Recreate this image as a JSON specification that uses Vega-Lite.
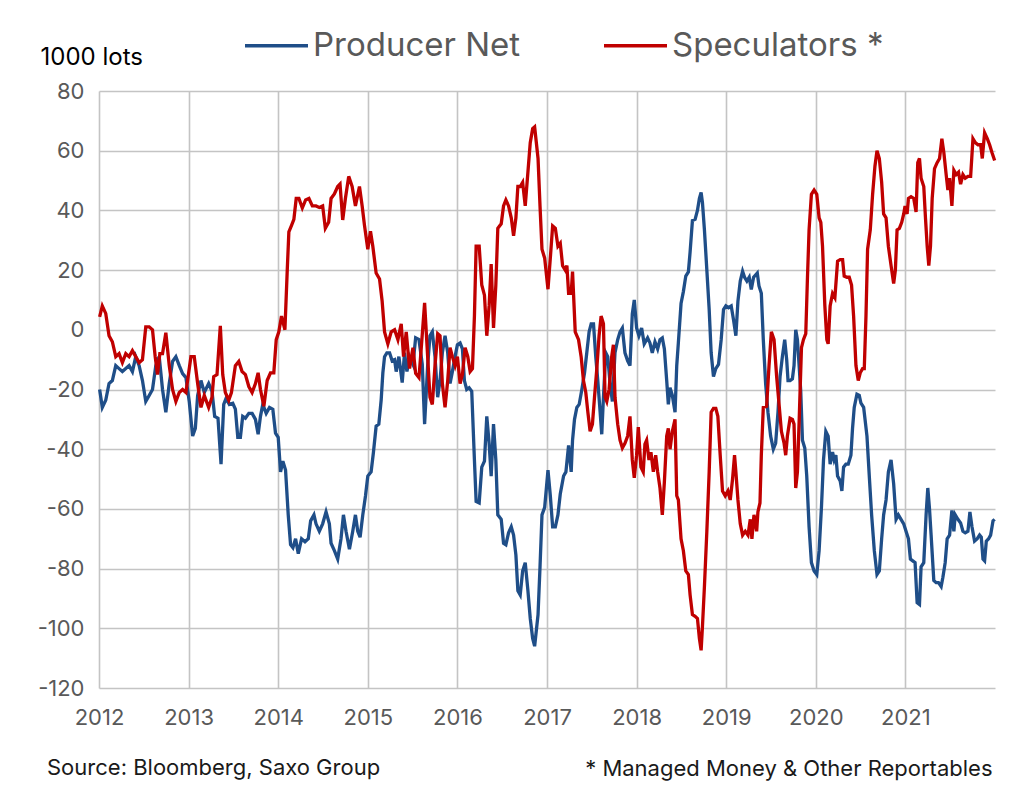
{
  "$schema": "https://vega.github.io/schema/vega-lite/v6.json",
  "width": 896,
  "height": 597,
  "autosize": "none",
  "padding": {"left": 99, "top": 91, "right": 20, "bottom": 98},
  "background": "white",
  "title": {"text": "Source: Bloomberg, Saxo Group", "orient": "bottom", "anchor": "start", "frame": "group", "dx": -52, "offset": -21, "fontSize": 22, "fontWeight": "normal", "color": "#1a1a1a", "font": "Inter"},
  "datasets": {
    "producer": [
{"t":2012.007,"v":-20},{"t":2012.037,"v":-26},{"t":2012.075,"v":-23.6},{"t":2012.112,"v":-18},{"t":2012.149,"v":-17},{"t":2012.187,"v":-12},{"t":2012.224,"v":-13},{"t":2012.261,"v":-14},{"t":2012.299,"v":-13},{"t":2012.336,"v":-12},{"t":2012.373,"v":-14},{"t":2012.41,"v":-9},{"t":2012.448,"v":-12},{"t":2012.485,"v":-17},{"t":2012.522,"v":-24},{"t":2012.56,"v":-22},{"t":2012.597,"v":-20},{"t":2012.634,"v":-12},{"t":2012.672,"v":-9},{"t":2012.709,"v":-20},{"t":2012.746,"v":-27.6},{"t":2012.784,"v":-18},{"t":2012.821,"v":-10.6},{"t":2012.858,"v":-9},{"t":2012.896,"v":-12},{"t":2012.933,"v":-14.7},{"t":2012.97,"v":-16},{"t":2013.007,"v":-24},{"t":2013.045,"v":-35.6},{"t":2013.075,"v":-33},{"t":2013.101,"v":-22},{"t":2013.138,"v":-17},{"t":2013.175,"v":-21},{"t":2013.224,"v":-18},{"t":2013.261,"v":-20.6},{"t":2013.291,"v":-29},{"t":2013.328,"v":-29.6},{"t":2013.362,"v":-45},{"t":2013.392,"v":-25},{"t":2013.418,"v":-23},{"t":2013.455,"v":-25},{"t":2013.493,"v":-24.6},{"t":2013.522,"v":-26.6},{"t":2013.549,"v":-36},{"t":2013.578,"v":-36},{"t":2013.604,"v":-29},{"t":2013.634,"v":-29.6},{"t":2013.672,"v":-28},{"t":2013.709,"v":-28},{"t":2013.746,"v":-30},{"t":2013.776,"v":-35},{"t":2013.802,"v":-29},{"t":2013.828,"v":-25},{"t":2013.866,"v":-28},{"t":2013.903,"v":-26},{"t":2013.94,"v":-26.6},{"t":2013.97,"v":-34.6},{"t":2014,"v":-36},{"t":2014.026,"v":-47.6},{"t":2014.052,"v":-44},{"t":2014.082,"v":-47},{"t":2014.112,"v":-62},{"t":2014.138,"v":-72},{"t":2014.164,"v":-73},{"t":2014.194,"v":-70},{"t":2014.224,"v":-75},{"t":2014.261,"v":-70},{"t":2014.299,"v":-71},{"t":2014.336,"v":-70},{"t":2014.362,"v":-64},{"t":2014.399,"v":-62},{"t":2014.422,"v":-65},{"t":2014.459,"v":-67.5},{"t":2014.496,"v":-65},{"t":2014.534,"v":-61},{"t":2014.571,"v":-65},{"t":2014.59,"v":-71.5},{"t":2014.627,"v":-74},{"t":2014.664,"v":-76.8},{"t":2014.701,"v":-70},{"t":2014.728,"v":-62},{"t":2014.757,"v":-67.5},{"t":2014.795,"v":-73.5},{"t":2014.832,"v":-67.5},{"t":2014.862,"v":-62},{"t":2014.888,"v":-67.5},{"t":2014.914,"v":-69.5},{"t":2014.944,"v":-62},{"t":2014.974,"v":-55.7},{"t":2015,"v":-49},{"t":2015.037,"v":-47.6},{"t":2015.063,"v":-41},{"t":2015.093,"v":-32.3},{"t":2015.123,"v":-31.6},{"t":2015.149,"v":-23.6},{"t":2015.168,"v":-14.4},{"t":2015.187,"v":-9},{"t":2015.213,"v":-7.7},{"t":2015.243,"v":-7.7},{"t":2015.272,"v":-10.4},{"t":2015.299,"v":-10},{"t":2015.317,"v":-14},{"t":2015.347,"v":-9},{"t":2015.384,"v":-17.7},{"t":2015.41,"v":-7.7},{"t":2015.437,"v":-14},{"t":2015.466,"v":-9},{"t":2015.504,"v":-11.6},{"t":2015.534,"v":-2.7},{"t":2015.571,"v":-3.3},{"t":2015.608,"v":-11.6},{"t":2015.634,"v":-31.6},{"t":2015.668,"v":-12},{"t":2015.694,"v":-2},{"t":2015.72,"v":-0.7},{"t":2015.75,"v":-9},{"t":2015.78,"v":-22.6},{"t":2015.806,"v":-17},{"t":2015.832,"v":-7.7},{"t":2015.862,"v":-2},{"t":2015.892,"v":-7.7},{"t":2015.918,"v":-18},{"t":2015.944,"v":-14},{"t":2015.974,"v":-9},{"t":2016,"v":-5},{"t":2016.03,"v":-4.4},{"t":2016.056,"v":-6.4},{"t":2016.078,"v":-17},{"t":2016.104,"v":-20},{"t":2016.131,"v":-19.4},{"t":2016.16,"v":-20.6},{"t":2016.19,"v":-43.6},{"t":2016.209,"v":-57.5},{"t":2016.243,"v":-58},{"t":2016.272,"v":-46},{"t":2016.302,"v":-44},{"t":2016.328,"v":-29},{"t":2016.354,"v":-38},{"t":2016.377,"v":-49},{"t":2016.403,"v":-31.6},{"t":2016.429,"v":-43.6},{"t":2016.451,"v":-62},{"t":2016.489,"v":-63.5},{"t":2016.515,"v":-71.5},{"t":2016.541,"v":-72},{"t":2016.571,"v":-68},{"t":2016.601,"v":-66},{"t":2016.627,"v":-68.8},{"t":2016.653,"v":-75.5},{"t":2016.675,"v":-87.4},{"t":2016.701,"v":-88.8},{"t":2016.728,"v":-80.8},{"t":2016.757,"v":-78},{"t":2016.787,"v":-87.4},{"t":2016.813,"v":-96.7},{"t":2016.84,"v":-103.4},{"t":2016.862,"v":-106},{"t":2016.9,"v":-95.4},{"t":2016.922,"v":-79.5},{"t":2016.944,"v":-62},{"t":2016.974,"v":-59.5},{"t":2017.011,"v":-47},{"t":2017.037,"v":-55.6},{"t":2017.063,"v":-66},{"t":2017.093,"v":-66},{"t":2017.122,"v":-62},{"t":2017.148,"v":-55},{"t":2017.185,"v":-49},{"t":2017.211,"v":-47.6},{"t":2017.241,"v":-38.7},{"t":2017.27,"v":-47.6},{"t":2017.285,"v":-37},{"t":2017.307,"v":-30},{"t":2017.333,"v":-26},{"t":2017.359,"v":-25},{"t":2017.389,"v":-20},{"t":2017.419,"v":-14.4},{"t":2017.444,"v":-7.7},{"t":2017.47,"v":-0.7},{"t":2017.493,"v":2},{"t":2017.519,"v":2},{"t":2017.544,"v":-9},{"t":2017.567,"v":-17},{"t":2017.593,"v":-27.6},{"t":2017.611,"v":-35},{"t":2017.63,"v":-22.6},{"t":2017.656,"v":-7.7},{"t":2017.678,"v":-9},{"t":2017.704,"v":-18},{"t":2017.73,"v":-24},{"t":2017.759,"v":-7.7},{"t":2017.789,"v":-3.3},{"t":2017.815,"v":-0.7},{"t":2017.841,"v":0.6},{"t":2017.87,"v":-7.7},{"t":2017.9,"v":-10.4},{"t":2017.926,"v":-12},{"t":2017.952,"v":5.3},{"t":2017.974,"v":10},{"t":2018,"v":0.6},{"t":2018.026,"v":-2},{"t":2018.056,"v":0.6},{"t":2018.085,"v":-4.7},{"t":2018.123,"v":-2.7},{"t":2018.149,"v":-4.4},{"t":2018.175,"v":-7.7},{"t":2018.205,"v":-4},{"t":2018.235,"v":-6.4},{"t":2018.261,"v":-3.3},{"t":2018.287,"v":-2.7},{"t":2018.31,"v":-6.4},{"t":2018.336,"v":-17},{"t":2018.354,"v":-25},{"t":2018.373,"v":-19.4},{"t":2018.399,"v":-22},{"t":2018.429,"v":-27.6},{"t":2018.448,"v":-12},{"t":2018.466,"v":-4.4},{"t":2018.496,"v":8.8},{"t":2018.522,"v":12.8},{"t":2018.549,"v":18},{"t":2018.578,"v":19.4},{"t":2018.597,"v":26},{"t":2018.623,"v":36.6},{"t":2018.653,"v":37},{"t":2018.679,"v":40},{"t":2018.701,"v":44},{"t":2018.72,"v":46},{"t":2018.735,"v":42.6},{"t":2018.757,"v":33.5},{"t":2018.784,"v":20},{"t":2018.81,"v":6.8},{"t":2018.832,"v":-7.7},{"t":2018.858,"v":-15.7},{"t":2018.884,"v":-13},{"t":2018.914,"v":-11.6},{"t":2018.944,"v":-3.3},{"t":2018.97,"v":6.8},{"t":2018.996,"v":8},{"t":2019.026,"v":7.4},{"t":2019.056,"v":8},{"t":2019.082,"v":3.3},{"t":2019.108,"v":-2},{"t":2019.131,"v":9.6},{"t":2019.157,"v":16.3},{"t":2019.183,"v":19.6},{"t":2019.205,"v":17.6},{"t":2019.231,"v":16.3},{"t":2019.257,"v":17.6},{"t":2019.28,"v":13.5},{"t":2019.306,"v":17.6},{"t":2019.347,"v":19},{"t":2019.366,"v":14.7},{"t":2019.392,"v":12.2},{"t":2019.414,"v":-3.3},{"t":2019.44,"v":-18},{"t":2019.466,"v":-27.6},{"t":2019.496,"v":-35.6},{"t":2019.526,"v":-40},{"t":2019.552,"v":-38},{"t":2019.578,"v":-27.6},{"t":2019.601,"v":-15.7},{"t":2019.627,"v":-9},{"t":2019.653,"v":-3.3},{"t":2019.675,"v":-10},{"t":2019.69,"v":-17},{"t":2019.713,"v":-17},{"t":2019.739,"v":-16.4},{"t":2019.757,"v":-12},{"t":2019.776,"v":0},{"t":2019.795,"v":-3.3},{"t":2019.813,"v":-11.6},{"t":2019.832,"v":-20.6},{"t":2019.851,"v":-37},{"t":2019.877,"v":-39.6},{"t":2019.899,"v":-49},{"t":2019.925,"v":-66},{"t":2019.951,"v":-78},{"t":2019.981,"v":-80.8},{"t":2020.011,"v":-82},{"t":2020.037,"v":-74},{"t":2020.063,"v":-59.5},{"t":2020.086,"v":-43.6},{"t":2020.112,"v":-34},{"t":2020.138,"v":-35.6},{"t":2020.16,"v":-45},{"t":2020.187,"v":-41},{"t":2020.205,"v":-43.6},{"t":2020.224,"v":-42},{"t":2020.243,"v":-49},{"t":2020.272,"v":-50.6},{"t":2020.291,"v":-54},{"t":2020.31,"v":-46},{"t":2020.336,"v":-45},{"t":2020.362,"v":-45},{"t":2020.392,"v":-42},{"t":2020.41,"v":-33},{"t":2020.429,"v":-26},{"t":2020.459,"v":-21.6},{"t":2020.485,"v":-22},{"t":2020.504,"v":-24.6},{"t":2020.534,"v":-26},{"t":2020.571,"v":-35.6},{"t":2020.597,"v":-49},{"t":2020.623,"v":-62},{"t":2020.653,"v":-74},{"t":2020.683,"v":-82},{"t":2020.709,"v":-80.8},{"t":2020.735,"v":-70},{"t":2020.757,"v":-62},{"t":2020.784,"v":-57},{"t":2020.81,"v":-47.6},{"t":2020.84,"v":-43.6},{"t":2020.869,"v":-51.6},{"t":2020.896,"v":-63.5},{"t":2020.922,"v":-62},{"t":2020.951,"v":-63.5},{"t":2020.981,"v":-65},{"t":2021.007,"v":-67.5},{"t":2021.034,"v":-70},{"t":2021.056,"v":-76.8},{"t":2021.082,"v":-77.4},{"t":2021.108,"v":-78},{"t":2021.131,"v":-91.4},{"t":2021.157,"v":-92},{"t":2021.175,"v":-79.4},{"t":2021.205,"v":-78},{"t":2021.231,"v":-62},{"t":2021.25,"v":-53},{"t":2021.269,"v":-60},{"t":2021.287,"v":-68.8},{"t":2021.317,"v":-84},{"t":2021.343,"v":-84.7},{"t":2021.369,"v":-84.7},{"t":2021.399,"v":-86},{"t":2021.418,"v":-83},{"t":2021.444,"v":-78},{"t":2021.466,"v":-70},{"t":2021.493,"v":-68.8},{"t":2021.519,"v":-60.5},{"t":2021.541,"v":-67.5},{"t":2021.556,"v":-62},{"t":2021.586,"v":-63.5},{"t":2021.616,"v":-64.7},{"t":2021.642,"v":-67.5},{"t":2021.668,"v":-68},{"t":2021.698,"v":-67.5},{"t":2021.72,"v":-61},{"t":2021.743,"v":-66},{"t":2021.772,"v":-70.8},{"t":2021.802,"v":-70},{"t":2021.828,"v":-68.8},{"t":2021.847,"v":-69.5},{"t":2021.866,"v":-76.8},{"t":2021.884,"v":-77.4},{"t":2021.903,"v":-70.8},{"t":2021.929,"v":-70},{"t":2021.951,"v":-68.8},{"t":2021.978,"v":-64},{"t":2021.996,"v":-63.5}
    ],
    "speculators": [
{"t":2012.007,"v":4.3},{"t":2012.037,"v":8},{"t":2012.075,"v":5.5},{"t":2012.112,"v":-2},{"t":2012.149,"v":-4},{"t":2012.187,"v":-9},{"t":2012.224,"v":-8},{"t":2012.261,"v":-11},{"t":2012.299,"v":-8},{"t":2012.336,"v":-9},{"t":2012.373,"v":-7},{"t":2012.41,"v":-9},{"t":2012.448,"v":-11},{"t":2012.485,"v":-10},{"t":2012.522,"v":1},{"t":2012.56,"v":1},{"t":2012.597,"v":0},{"t":2012.627,"v":-9},{"t":2012.653,"v":-15},{"t":2012.679,"v":-8},{"t":2012.709,"v":-8},{"t":2012.746,"v":-1},{"t":2012.784,"v":-12},{"t":2012.821,"v":-20},{"t":2012.858,"v":-24},{"t":2012.896,"v":-21},{"t":2012.933,"v":-20},{"t":2012.97,"v":-21},{"t":2013.026,"v":-9},{"t":2013.063,"v":-9},{"t":2013.101,"v":-18},{"t":2013.138,"v":-26},{"t":2013.175,"v":-22},{"t":2013.224,"v":-26},{"t":2013.261,"v":-22.6},{"t":2013.28,"v":-15.7},{"t":2013.317,"v":-15},{"t":2013.354,"v":1.3},{"t":2013.381,"v":-15},{"t":2013.41,"v":-21},{"t":2013.448,"v":-23.6},{"t":2013.478,"v":-21},{"t":2013.522,"v":-12},{"t":2013.56,"v":-10.6},{"t":2013.597,"v":-14},{"t":2013.634,"v":-15},{"t":2013.672,"v":-19},{"t":2013.709,"v":-21},{"t":2013.746,"v":-18},{"t":2013.776,"v":-14.4},{"t":2013.802,"v":-20},{"t":2013.84,"v":-25.6},{"t":2013.877,"v":-17},{"t":2013.914,"v":-14.4},{"t":2013.951,"v":-14.4},{"t":2013.978,"v":-3.3},{"t":2014.007,"v":-0.7},{"t":2014.037,"v":4.6},{"t":2014.075,"v":0},{"t":2014.101,"v":20},{"t":2014.119,"v":32.8},{"t":2014.149,"v":35},{"t":2014.175,"v":37},{"t":2014.201,"v":44},{"t":2014.231,"v":44},{"t":2014.269,"v":40.8},{"t":2014.306,"v":43.5},{"t":2014.343,"v":44},{"t":2014.381,"v":41.5},{"t":2014.422,"v":41.5},{"t":2014.459,"v":41},{"t":2014.496,"v":41.5},{"t":2014.526,"v":34},{"t":2014.563,"v":36},{"t":2014.59,"v":44},{"t":2014.627,"v":45.5},{"t":2014.664,"v":48},{"t":2014.69,"v":48.8},{"t":2014.72,"v":36.8},{"t":2014.75,"v":44},{"t":2014.787,"v":51.4},{"t":2014.825,"v":48},{"t":2014.862,"v":41.5},{"t":2014.907,"v":48},{"t":2014.937,"v":41.5},{"t":2014.963,"v":35},{"t":2015,"v":27},{"t":2015.03,"v":33},{"t":2015.056,"v":28},{"t":2015.093,"v":19},{"t":2015.131,"v":17},{"t":2015.16,"v":9.6},{"t":2015.187,"v":-0.7},{"t":2015.224,"v":-4.7},{"t":2015.261,"v":-0.7},{"t":2015.299,"v":0},{"t":2015.336,"v":-3.3},{"t":2015.373,"v":2},{"t":2015.399,"v":-9},{"t":2015.429,"v":-0.7},{"t":2015.466,"v":-13},{"t":2015.504,"v":-6},{"t":2015.534,"v":-14.6},{"t":2015.571,"v":-16},{"t":2015.597,"v":-6},{"t":2015.634,"v":9},{"t":2015.668,"v":-9},{"t":2015.694,"v":-22.6},{"t":2015.72,"v":-25},{"t":2015.75,"v":-12},{"t":2015.78,"v":-1.3},{"t":2015.806,"v":-2},{"t":2015.832,"v":-18},{"t":2015.862,"v":-26},{"t":2015.892,"v":-17},{"t":2015.918,"v":-6},{"t":2015.944,"v":-9},{"t":2015.974,"v":-12},{"t":2016,"v":-9},{"t":2016.03,"v":-18},{"t":2016.056,"v":-15},{"t":2016.086,"v":-6},{"t":2016.116,"v":-9},{"t":2016.142,"v":-14},{"t":2016.168,"v":-13},{"t":2016.19,"v":4.6},{"t":2016.209,"v":28},{"t":2016.243,"v":28},{"t":2016.272,"v":15},{"t":2016.302,"v":11.6},{"t":2016.328,"v":-2},{"t":2016.354,"v":8},{"t":2016.377,"v":22},{"t":2016.403,"v":0.6},{"t":2016.429,"v":15},{"t":2016.451,"v":34},{"t":2016.489,"v":35.5},{"t":2016.515,"v":41.5},{"t":2016.541,"v":43.5},{"t":2016.571,"v":41.5},{"t":2016.601,"v":37.5},{"t":2016.627,"v":31.5},{"t":2016.653,"v":37.5},{"t":2016.675,"v":48},{"t":2016.701,"v":48},{"t":2016.728,"v":49.4},{"t":2016.757,"v":41.5},{"t":2016.787,"v":52.8},{"t":2016.813,"v":62.7},{"t":2016.84,"v":67.4},{"t":2016.862,"v":68},{"t":2016.9,"v":57.4},{"t":2016.922,"v":41.5},{"t":2016.944,"v":27},{"t":2016.974,"v":24},{"t":2017.011,"v":13.6},{"t":2017.037,"v":24},{"t":2017.063,"v":34.8},{"t":2017.093,"v":34},{"t":2017.122,"v":28},{"t":2017.148,"v":29},{"t":2017.174,"v":21.5},{"t":2017.204,"v":20},{"t":2017.222,"v":21.5},{"t":2017.241,"v":12.2},{"t":2017.27,"v":12.2},{"t":2017.285,"v":19.5},{"t":2017.315,"v":-0.7},{"t":2017.352,"v":-3.3},{"t":2017.381,"v":-9},{"t":2017.407,"v":-17},{"t":2017.433,"v":-21},{"t":2017.456,"v":-27.6},{"t":2017.481,"v":-34},{"t":2017.507,"v":-31.6},{"t":2017.53,"v":-22.6},{"t":2017.556,"v":-13},{"t":2017.581,"v":-2},{"t":2017.604,"v":4.6},{"t":2017.63,"v":2},{"t":2017.648,"v":-22.6},{"t":2017.667,"v":-24},{"t":2017.693,"v":-20},{"t":2017.722,"v":-9},{"t":2017.741,"v":-5},{"t":2017.759,"v":-22.6},{"t":2017.789,"v":-31.6},{"t":2017.815,"v":-37},{"t":2017.841,"v":-39.6},{"t":2017.87,"v":-38},{"t":2017.9,"v":-35.6},{"t":2017.926,"v":-29},{"t":2017.952,"v":-43.6},{"t":2017.974,"v":-49.6},{"t":2018,"v":-42},{"t":2018.019,"v":-32.6},{"t":2018.048,"v":-46},{"t":2018.074,"v":-47.6},{"t":2018.093,"v":-38.3},{"t":2018.112,"v":-37},{"t":2018.138,"v":-43.6},{"t":2018.16,"v":-41},{"t":2018.187,"v":-47.6},{"t":2018.213,"v":-42},{"t":2018.235,"v":-47.6},{"t":2018.261,"v":-53},{"t":2018.287,"v":-62},{"t":2018.31,"v":-51},{"t":2018.336,"v":-35.6},{"t":2018.354,"v":-33},{"t":2018.373,"v":-40},{"t":2018.399,"v":-34},{"t":2018.429,"v":-30},{"t":2018.448,"v":-55.6},{"t":2018.466,"v":-57},{"t":2018.496,"v":-70},{"t":2018.522,"v":-74},{"t":2018.549,"v":-80.8},{"t":2018.578,"v":-82},{"t":2018.597,"v":-88.8},{"t":2018.623,"v":-95.4},{"t":2018.653,"v":-96},{"t":2018.679,"v":-96.7},{"t":2018.701,"v":-103.4},{"t":2018.72,"v":-107.4},{"t":2018.735,"v":-99.4},{"t":2018.757,"v":-86},{"t":2018.784,"v":-67.5},{"t":2018.81,"v":-47.6},{"t":2018.832,"v":-27.6},{"t":2018.858,"v":-26.3},{"t":2018.884,"v":-26.3},{"t":2018.907,"v":-29},{"t":2018.933,"v":-42},{"t":2018.959,"v":-54},{"t":2018.989,"v":-55.6},{"t":2019.019,"v":-54},{"t":2019.045,"v":-57},{"t":2019.071,"v":-50},{"t":2019.093,"v":-42},{"t":2019.108,"v":-47.6},{"t":2019.131,"v":-57},{"t":2019.157,"v":-65},{"t":2019.183,"v":-68.8},{"t":2019.213,"v":-67.5},{"t":2019.243,"v":-68.8},{"t":2019.269,"v":-63.5},{"t":2019.287,"v":-70},{"t":2019.31,"v":-62},{"t":2019.34,"v":-67.5},{"t":2019.354,"v":-61},{"t":2019.377,"v":-58},{"t":2019.392,"v":-42},{"t":2019.414,"v":-26},{"t":2019.451,"v":-25.6},{"t":2019.478,"v":-12},{"t":2019.504,"v":-0.7},{"t":2019.534,"v":-3.3},{"t":2019.563,"v":-15.7},{"t":2019.59,"v":-25},{"t":2019.616,"v":-34},{"t":2019.646,"v":-38},{"t":2019.664,"v":-42},{"t":2019.683,"v":-35.6},{"t":2019.713,"v":-29.6},{"t":2019.739,"v":-30},{"t":2019.757,"v":-31.6},{"t":2019.776,"v":-53},{"t":2019.795,"v":-47.6},{"t":2019.813,"v":-31.6},{"t":2019.84,"v":-6},{"t":2019.862,"v":-3.3},{"t":2019.888,"v":-1.3},{"t":2019.907,"v":17.5},{"t":2019.925,"v":33.5},{"t":2019.951,"v":45.4},{"t":2019.981,"v":46.8},{"t":2020.011,"v":45.4},{"t":2020.037,"v":37.5},{"t":2020.056,"v":36},{"t":2020.075,"v":28},{"t":2020.101,"v":8},{"t":2020.123,"v":-3.3},{"t":2020.138,"v":-4.7},{"t":2020.16,"v":8},{"t":2020.187,"v":12.2},{"t":2020.213,"v":10.8},{"t":2020.243,"v":23},{"t":2020.272,"v":23.5},{"t":2020.299,"v":23.5},{"t":2020.317,"v":18},{"t":2020.347,"v":17.6},{"t":2020.373,"v":17.6},{"t":2020.399,"v":15},{"t":2020.422,"v":4.6},{"t":2020.448,"v":-12},{"t":2020.474,"v":-17},{"t":2020.496,"v":-14.4},{"t":2020.522,"v":-13},{"t":2020.541,"v":-13},{"t":2020.56,"v":4.6},{"t":2020.578,"v":27},{"t":2020.608,"v":33.5},{"t":2020.634,"v":45.4},{"t":2020.66,"v":54.8},{"t":2020.683,"v":60},{"t":2020.709,"v":57.4},{"t":2020.735,"v":49.4},{"t":2020.757,"v":38.8},{"t":2020.784,"v":37.5},{"t":2020.81,"v":28},{"t":2020.84,"v":21.5},{"t":2020.869,"v":15.5},{"t":2020.888,"v":20},{"t":2020.907,"v":33.5},{"t":2020.933,"v":34},{"t":2020.959,"v":36},{"t":2020.981,"v":38.8},{"t":2020.996,"v":41.5},{"t":2021.019,"v":38.8},{"t":2021.034,"v":44},{"t":2021.063,"v":44.6},{"t":2021.093,"v":44},{"t":2021.119,"v":39.5},{"t":2021.138,"v":56},{"t":2021.157,"v":57.4},{"t":2021.175,"v":50.8},{"t":2021.205,"v":48},{"t":2021.224,"v":37.5},{"t":2021.243,"v":28},{"t":2021.261,"v":21.5},{"t":2021.28,"v":28},{"t":2021.299,"v":44},{"t":2021.325,"v":54},{"t":2021.354,"v":56},{"t":2021.381,"v":57.4},{"t":2021.407,"v":64},{"t":2021.429,"v":59.4},{"t":2021.455,"v":52},{"t":2021.474,"v":46.8},{"t":2021.493,"v":50.8},{"t":2021.519,"v":41.5},{"t":2021.541,"v":53.4},{"t":2021.567,"v":52},{"t":2021.593,"v":52.8},{"t":2021.616,"v":48.8},{"t":2021.642,"v":52},{"t":2021.668,"v":50.8},{"t":2021.698,"v":51.4},{"t":2021.728,"v":51.4},{"t":2021.754,"v":64},{"t":2021.78,"v":62.7},{"t":2021.81,"v":62},{"t":2021.84,"v":62},{"t":2021.858,"v":57.4},{"t":2021.884,"v":66},{"t":2021.914,"v":64},{"t":2021.94,"v":62},{"t":2021.966,"v":59.4},{"t":2021.996,"v":56.7}
    ]
  },
  "encoding": {
    "x": {
      "field": "t", "type": "quantitative",
      "scale": {"domain": [2012, 2022], "nice": false, "zero": false},
      "axis": {
        "values": [2012, 2013, 2014, 2015, 2016, 2017, 2018, 2019, 2020, 2021],
        "format": "d", "grid": true, "ticks": false, "domain": false,
        "labelPadding": 19, "labelFlush": false,
        "title": "* Managed Money & Other Reportables",
        "titleX": 893, "titleY": 80, "titleAlign": "right", "titleAnchor": null, "titleBaseline": "middle",
        "titleFontSize": 22, "titleFontWeight": "normal", "titleColor": "#1a1a1a"
      }
    },
    "y": {
      "field": "v", "type": "quantitative",
      "scale": {"domain": [-120, 80], "nice": false, "zero": false},
      "axis": {
        "values": [-120, -100, -80, -60, -40, -20, 0, 20, 40, 60, 80],
        "labelExpr": "datum.value < 0 ? '-' + abs(datum.value) : '' + datum.value",
        "grid": true, "ticks": false, "domain": false, "labelPadding": 15,
        "title": "1000 lots", "titleAngle": 0, "titleX": -59, "titleY": -34,
        "titleAlign": "left", "titleBaseline": "middle", "titleAnchor": null,
        "titleFontSize": 24, "titleFontWeight": "normal", "titleColor": "#000000"
      }
    },
    "color": {
      "type": "nominal",
      "scale": {"domain": ["Producer Net", "Speculators *"], "range": ["#1f4e88", "#c00000"]},
      "legend": {
        "orient": "none", "legendX": 144, "legendY": -79, "direction": "horizontal",
        "title": null, "symbolType": "stroke", "symbolSize": 3969, "symbolStrokeWidth": 3.5,
        "labelFontSize": 33, "labelColor": "#595959", "labelOffset": 3, "columnPadding": 76,
        "labelFont": "Inter", "labelLimit": 0
      }
    }
  },
  "layer": [
    {"data": {"name": "producer"}, "mark": {"type": "line", "strokeWidth": 3.3}, "encoding": {"color": {"datum": "Producer Net"}}},
    {"data": {"name": "speculators"}, "mark": {"type": "line", "strokeWidth": 3.3}, "encoding": {"color": {"datum": "Speculators *"}}}
  ],
  "config": {
    "view": {"stroke": null},
    "font": "Inter",
    "axis": {"labelFont": "Inter", "titleFont": "Inter", "labelFontSize": 22, "labelColor": "#595959", "gridColor": "#c4c4c4", "gridWidth": 1.6}
  }
}
